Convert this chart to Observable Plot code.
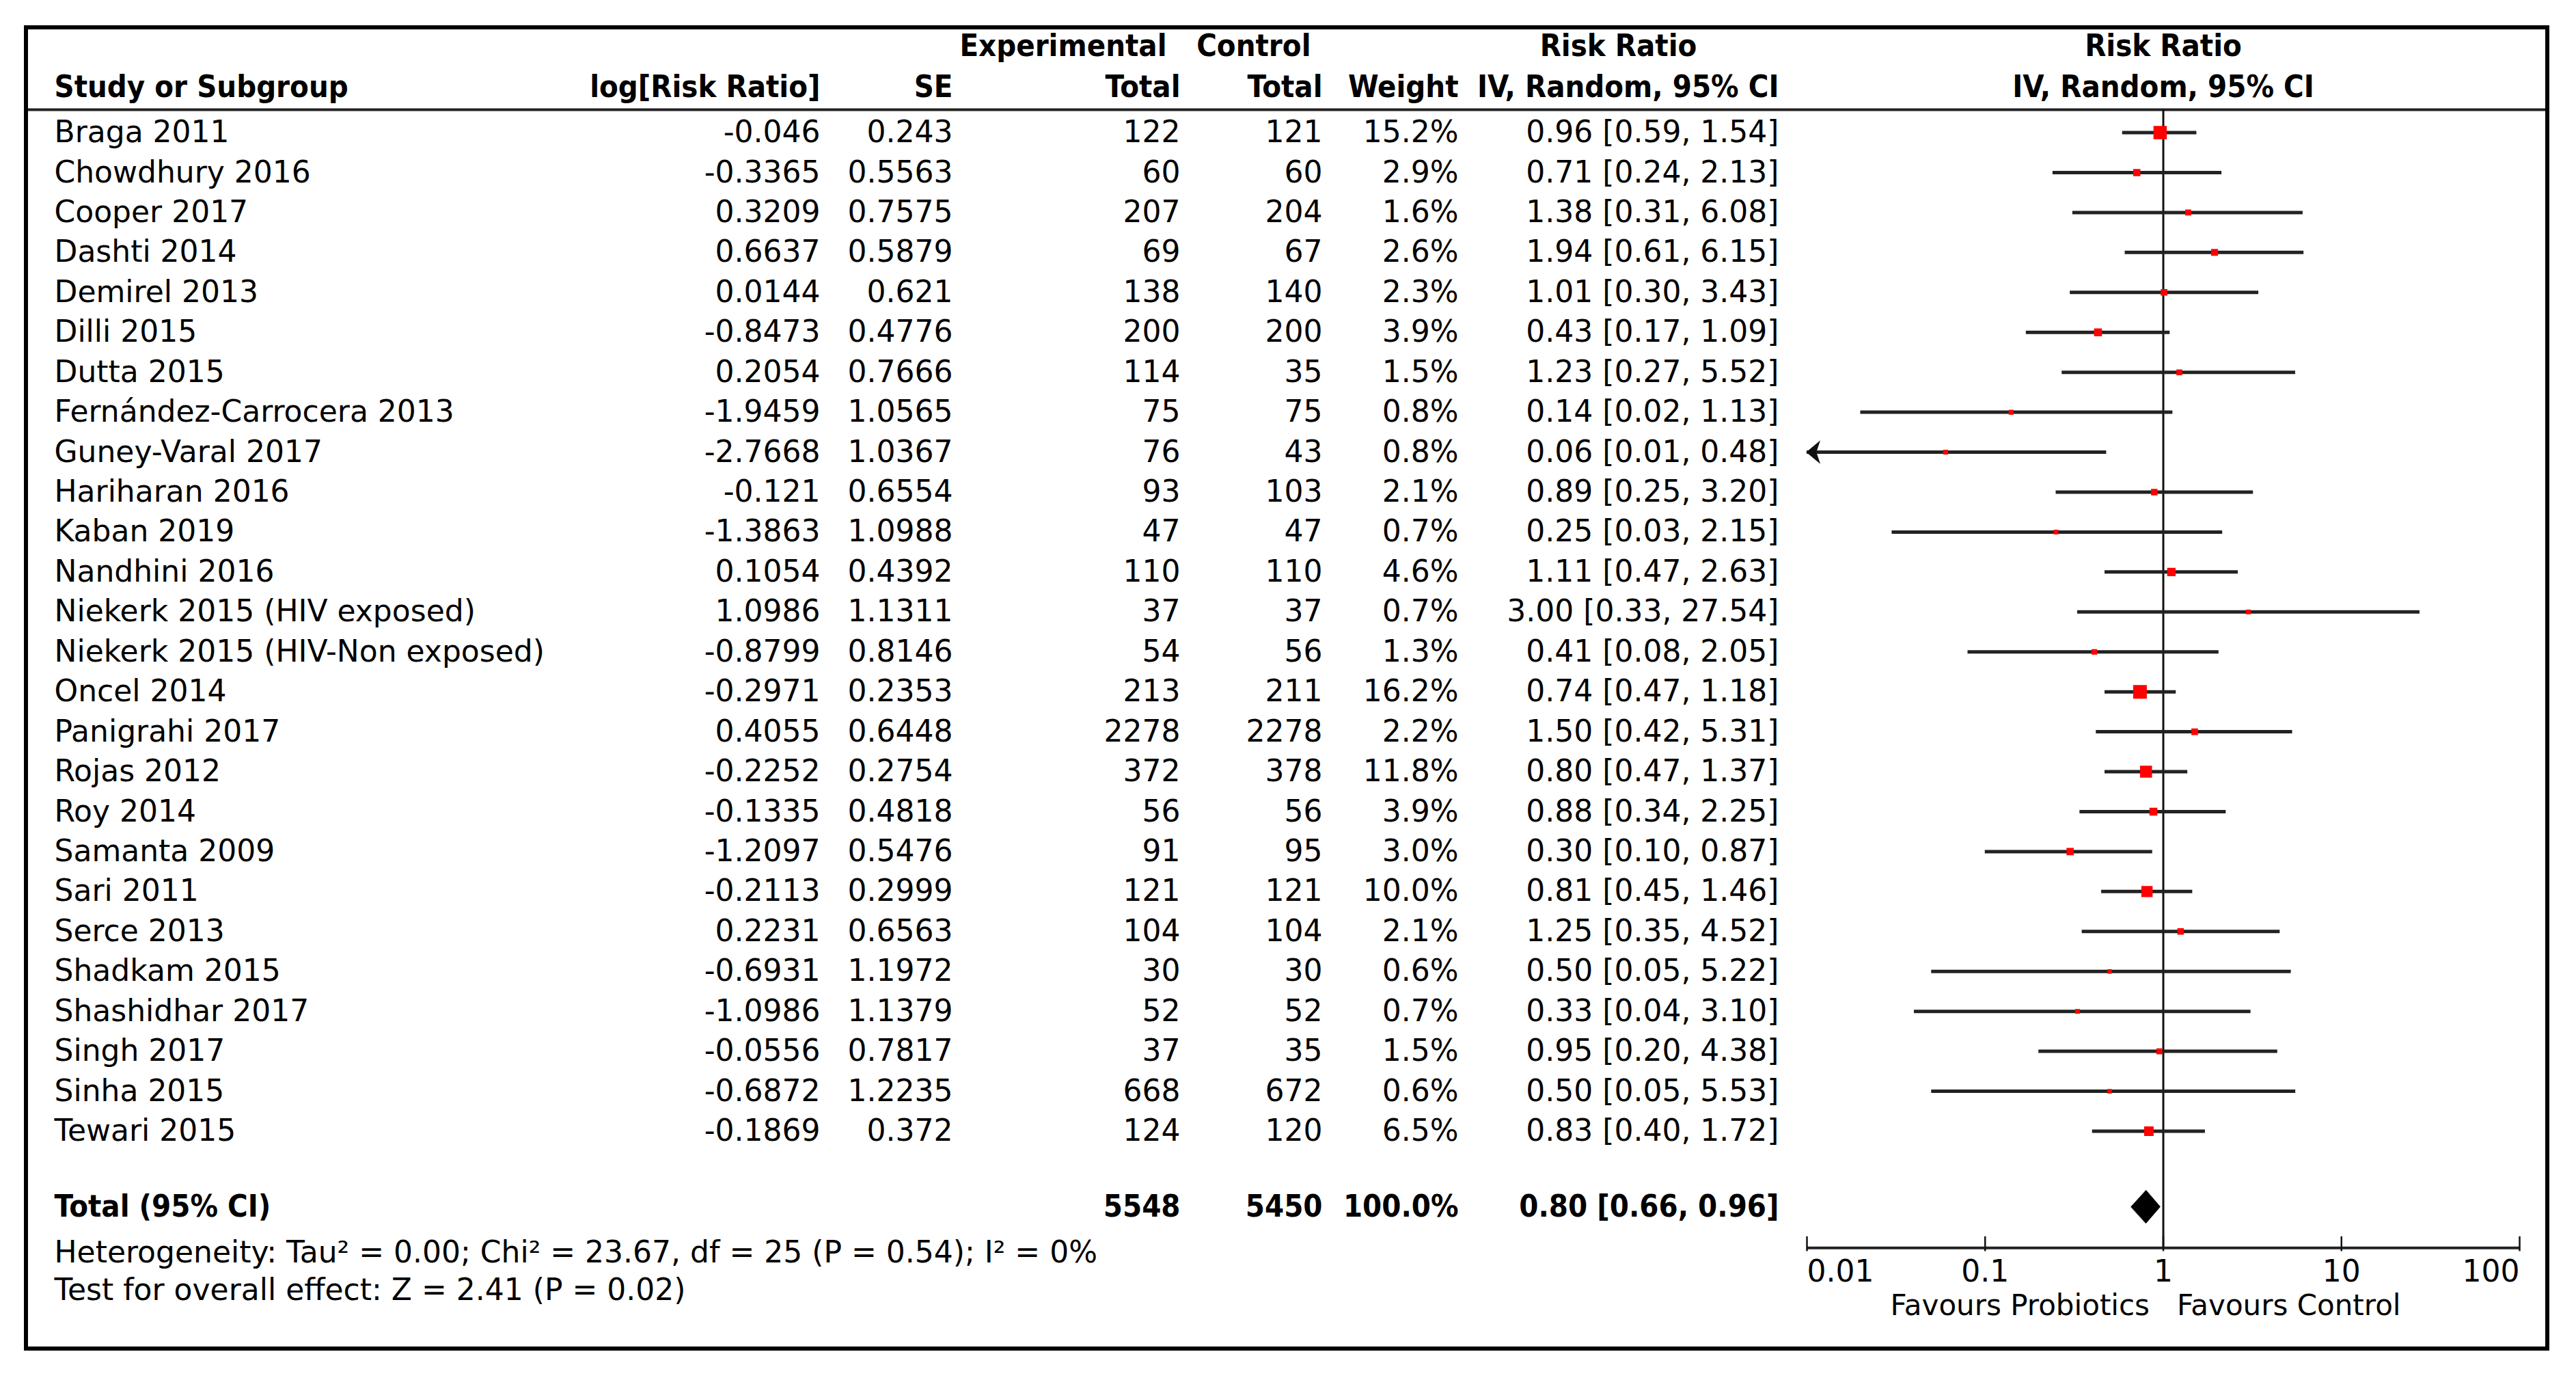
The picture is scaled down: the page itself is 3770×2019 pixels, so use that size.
<!DOCTYPE html>
<html><head><meta charset="utf-8">
<script src="https://cdn.jsdelivr.net/npm/d3@7"></script>
<script src="https://cdn.jsdelivr.net/npm/@observablehq/plot@0.6"></script>
<style>
body{margin:0;background:#fff;}
#wrap{position:relative;width:3770px;height:2019px;overflow:hidden;background:#fff}
#wrap svg{position:absolute;top:0;background:transparent !important;max-width:none !important}
#frame{position:absolute;left:35px;top:37px;width:3696px;height:1939px;border:6px solid #000;box-sizing:border-box;pointer-events:none}
</style></head><body><div id="wrap"><div id="frame"></div></div><script>
// ---------------- data ----------------
const studies = ["Braga 2011","Chowdhury 2016","Cooper 2017","Dashti 2014","Demirel 2013","Dilli 2015","Dutta 2015","Fernández-Carrocera 2013","Guney-Varal 2017","Hariharan 2016","Kaban 2019","Nandhini 2016","Niekerk 2015 (HIV exposed)","Niekerk 2015 (HIV-Non exposed)","Oncel 2014","Panigrahi 2017","Rojas 2012","Roy 2014","Samanta 2009","Sari 2011","Serce 2013","Shadkam 2015","Shashidhar 2017","Singh 2017","Sinha 2015","Tewari 2015"];
const logRR = [-0.046,-0.3365,0.3209,0.6637,0.0144,-0.8473,0.2054,-1.9459,-2.7668,-0.121,-1.3863,0.1054,1.0986,-0.8799,-0.2971,0.4055,-0.2252,-0.1335,-1.2097,-0.2113,0.2231,-0.6931,-1.0986,-0.0556,-0.6872,-0.1869];
const se = [0.243,0.5563,0.7575,0.5879,0.621,0.4776,0.7666,1.0565,1.0367,0.6554,1.0988,0.4392,1.1311,0.8146,0.2353,0.6448,0.2754,0.4818,0.5476,0.2999,0.6563,1.1972,1.1379,0.7817,1.2235,0.372];
const expTotal = [122,60,207,69,138,200,114,75,76,93,47,110,37,54,213,2278,372,56,91,121,104,30,52,37,668,124];
const ctlTotal = [121,60,204,67,140,200,35,75,43,103,47,110,37,56,211,2278,378,56,95,121,104,30,52,35,672,120];
const weight = [15.2,2.9,1.6,2.6,2.3,3.9,1.5,0.8,0.8,2.1,0.7,4.6,0.7,1.3,16.2,2.2,11.8,3.9,3.0,10.0,2.1,0.6,0.7,1.5,0.6,6.5];
const riskRatio = [0.96,0.71,1.38,1.94,1.01,0.43,1.23,0.14,0.06,0.89,0.25,1.11,3.00,0.41,0.74,1.50,0.80,0.88,0.30,0.81,1.25,0.50,0.33,0.95,0.50,0.83];
const ciLow = [0.59,0.24,0.31,0.61,0.30,0.17,0.27,0.02,0.01,0.25,0.03,0.47,0.33,0.08,0.47,0.42,0.47,0.34,0.10,0.45,0.35,0.05,0.04,0.20,0.05,0.40];
const ciHigh = [1.54,2.13,6.08,6.15,3.43,1.09,5.52,1.13,0.48,3.20,2.15,2.63,27.54,2.05,1.18,5.31,1.37,2.25,0.87,1.46,4.52,5.22,3.10,4.38,5.53,1.72];

const totalLabel = "Total (95% CI)";
const totalExp = 5548, totalCtl = 5450, totalWeight = 100.0;
const totalRR = 0.80, totalLow = 0.66, totalHigh = 0.96;

const columnHeaders = ["Study or Subgroup","log[Risk Ratio]","SE","Total","Total","Weight","IV, Random, 95% CI"];
const groupHeaders = ["Experimental","Control","Risk Ratio"];
const forestHeaders = ["Risk Ratio","IV, Random, 95% CI"];
const axisTicks = [0.01, 0.1, 1, 10, 100];
const favoursLabels = ["Favours Probiotics","Favours Control"];
const footnotes = ["Heterogeneity: Tau² = 0.00; Chi² = 23.67, df = 25 (P = 0.54); I² = 0%","Test for overall effect: Z = 2.41 (P = 0.02)"];

// ---------------- layout ----------------
const W = 3770, H = 2019;
const ROW0 = 193.5, ROWH = 58.44;
const yDomain = [-ROW0 / ROWH, (H - ROW0) / ROWH];
const Y = {h1: -2.16, h2: -1.13, rule: -0.573, total: 26.89, axis: 27.92, tickLabel: 28.52, favours: 29.37, het: 28.04, test: 28.98};
const LW = 2640;           // width of the table svg
const RX = 2560;           // left edge of the forest svg
const INNER_L = 41, INNER_R = 3725;
const colX = {study: 79, logRR: 1200, se: 1394, exp: 1727, ctl: 1935, weight: 2134, ci: 2603};
const groupX = {exp: 1707, ctl: 1918, rr: 2368};
const RW = INNER_R - RX;
const AX0 = 2644, DEC = 260.75;
const xLogDomain = [10 ** (-2 - (AX0 - RX) / DEC), 10 ** (-2 + (INNER_R - AX0) / DEC)];

const REG = "'DejaVu Sans', sans-serif";
const BOLD = "'DejaVu Sans Condensed', 'DejaVu Sans', sans-serif";
const FS = 44, BFS = 45;

const rows = studies.map((s, i) => ({
  i, study: s, logRR: logRR[i], se: se[i], exp: expTotal[i], ctl: ctlTotal[i],
  weight: weight[i], rr: riskRatio[i], lo: ciLow[i], hi: ciHigh[i]
}));
const ciText = (r, l, h) => `${r.toFixed(2)} [${l.toFixed(2)}, ${h.toFixed(2)}]`;

const txt = {fill: "#000", fontFamily: REG, fontSize: FS};
const btxt = {fill: "#000", fontFamily: BOLD, fontSize: BFS, fontWeight: "bold"};

// ---------------- left (table) ----------------
const headStart = [{x: colX.study, y: Y.h2, t: columnHeaders[0]}];
const headEnd = [
  {x: colX.logRR, y: Y.h2, t: columnHeaders[1]},
  {x: colX.se, y: Y.h2, t: columnHeaders[2]},
  {x: colX.exp, y: Y.h2, t: columnHeaders[3]},
  {x: colX.ctl, y: Y.h2, t: columnHeaders[4]},
  {x: colX.weight, y: Y.h2, t: columnHeaders[5]},
  {x: colX.ci, y: Y.h2, t: columnHeaders[6]},
  {x: groupX.exp, y: Y.h1, t: groupHeaders[0]},
  {x: groupX.ctl, y: Y.h1, t: groupHeaders[1]}
];
const headMid = [{x: groupX.rr, y: Y.h1, t: groupHeaders[2]}];
const totalEnd = [
  {x: colX.exp, t: String(totalExp)},
  {x: colX.ctl, t: String(totalCtl)},
  {x: colX.weight, t: totalWeight.toFixed(1) + "%"},
  {x: colX.ci, t: ciText(totalRR, totalLow, totalHigh)}
];

const left = Plot.plot({
  width: LW, height: H, margin: 0,
  x: {domain: [0, LW], range: [0, LW], axis: null},
  y: {domain: yDomain, range: [0, H], axis: null},
  style: {background: "transparent", fontFamily: REG, fontSize: FS + "px"},
  marks: [
    Plot.ruleY([Y.rule], {x1: INNER_L, x2: RX, stroke: "#222", strokeWidth: 4}),
    Plot.text(headStart, {x: "x", y: "y", text: "t", textAnchor: "start", ...btxt}),
    Plot.text(headEnd, {x: "x", y: "y", text: "t", textAnchor: "end", ...btxt}),
    Plot.text(headMid, {x: "x", y: "y", text: "t", textAnchor: "middle", ...btxt}),
    Plot.text(rows, {x: colX.study, y: "i", text: "study", textAnchor: "start", ...txt}),
    Plot.text(rows, {x: colX.logRR, y: "i", text: d => String(d.logRR), textAnchor: "end", ...txt}),
    Plot.text(rows, {x: colX.se, y: "i", text: d => String(d.se), textAnchor: "end", ...txt}),
    Plot.text(rows, {x: colX.exp, y: "i", text: d => String(d.exp), textAnchor: "end", ...txt}),
    Plot.text(rows, {x: colX.ctl, y: "i", text: d => String(d.ctl), textAnchor: "end", ...txt}),
    Plot.text(rows, {x: colX.weight, y: "i", text: d => d.weight.toFixed(1) + "%", textAnchor: "end", ...txt}),
    Plot.text(rows, {x: colX.ci, y: "i", text: d => ciText(d.rr, d.lo, d.hi), textAnchor: "end", ...txt}),
    Plot.text([totalLabel], {x: colX.study, y: Y.total, text: d => d, textAnchor: "start", ...btxt}),
    Plot.text(totalEnd, {x: "x", y: Y.total, text: "t", textAnchor: "end", ...btxt}),
    Plot.text(footnotes, {x: colX.study, y: (d, i) => i === 0 ? Y.het : Y.test, text: d => d, textAnchor: "start", ...txt})
  ]
});

// ---------------- right (forest) ----------------
const arrowSymbol = {draw(ctx) { ctx.moveTo(0, 0); ctx.lineTo(18, -15); ctx.lineTo(13, 0); ctx.lineTo(18, 15); ctx.closePath(); }};
const minX = axisTicks[0], maxX = axisTicks[axisTicks.length - 1];
const diamond = [
  {x: totalLow, y: Y.total}, {x: totalRR, y: Y.total - 0.41},
  {x: totalHigh, y: Y.total}, {x: totalRR, y: Y.total + 0.41}
];
const ftxt = {...txt, fontSize: 42};

const right = Plot.plot({
  width: RW, height: H, margin: 0,
  x: {type: "log", domain: xLogDomain, range: [0, RW], axis: null},
  y: {domain: yDomain, range: [0, H], axis: null},
  r: {type: "sqrt", range: [0, 9.3]},
  style: {background: "transparent", fontFamily: REG, fontSize: FS + "px"},
  marks: [
    Plot.ruleY([Y.rule], {stroke: "#222", strokeWidth: 4}),
    Plot.text(forestHeaders, {x: 1, y: (d, i) => i === 0 ? Y.h1 : Y.h2, text: d => d, textAnchor: "middle", ...btxt}),
    Plot.ruleX([1], {y1: Y.rule, y2: Y.axis, stroke: "#111", strokeWidth: 3}),
    Plot.ruleY(rows, {y: "i", x1: d => Math.max(d.lo, minX), x2: "hi", stroke: "#222", strokeWidth: 5}),
    Plot.dot(rows.filter(d => d.lo <= minX), {x: minX, y: "i", symbol: arrowSymbol, fill: "#111", stroke: "#111", strokeWidth: 1.5, r: 1}),
    Plot.dot(rows, {x: "rr", y: "i", r: "weight", symbol: "square", fill: "#f00", stroke: "#f00", strokeWidth: 3.5}),
    Plot.line(diamond, {x: "x", y: "y", fill: "#000", stroke: "#000", strokeWidth: 1, curve: "linear-closed"}),
    Plot.ruleY([Y.axis], {x1: minX, x2: maxX, stroke: "#222", strokeWidth: 4}),
    Plot.ruleX(axisTicks, {y1: Y.axis - 0.28, y2: Y.axis + 0.09, stroke: "#111", strokeWidth: 2.5}),
    Plot.text(axisTicks.slice(0, 1), {x: d => d, y: Y.tickLabel, text: d => String(d), textAnchor: "start", ...txt}),
    Plot.text(axisTicks.slice(1, -1), {x: d => d, y: Y.tickLabel, text: d => String(d), textAnchor: "middle", ...txt}),
    Plot.text(axisTicks.slice(-1), {x: d => d, y: Y.tickLabel, text: d => String(d), textAnchor: "end", ...txt}),
    Plot.text(favoursLabels.slice(0, 1), {x: 1, y: Y.favours, text: d => d, textAnchor: "end", dx: -20, ...ftxt}),
    Plot.text(favoursLabels.slice(1), {x: 1, y: Y.favours, text: d => d, textAnchor: "start", dx: 20, ...ftxt})
  ]
});

const wrap = document.getElementById("wrap");
left.style.left = "0px";
right.style.left = RX + "px";
wrap.insertBefore(left, wrap.firstChild);
wrap.insertBefore(right, document.getElementById("frame"));
</script></body></html>
